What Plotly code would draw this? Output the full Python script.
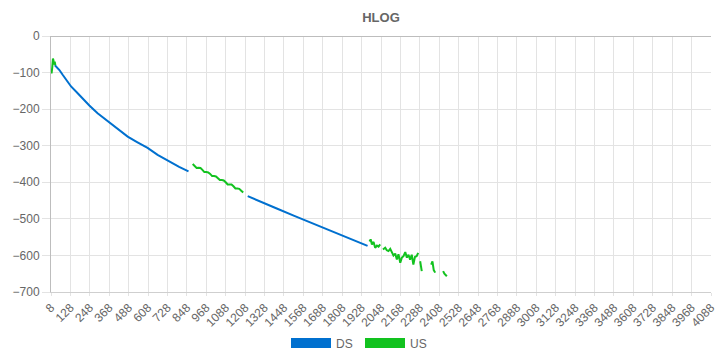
import plotly.graph_objects as go

# ---- data (subcarrier index, HLOG dB) ----
ds_x = [32, 45, 60, 80, 100, 132, 170, 200, 245, 296, 340, 379, 430, 482, 540, 605, 667, 710, 750, 800, 858,
        None,
        1224, 1300, 1400, 1512, 1600, 1700, 1800, 1900, 1965]
ds_y = [-80, -86, -93, -106, -118, -138, -155, -170, -190, -211, -226, -238, -257, -275, -290, -306, -325, -336, -347, -358, -370,
        None,
        -438, -453, -471, -492, -508, -525, -543, -562, -574]

us_x = [8, 12, 16, 20, 23, 27, 31, 35,
        None,
        884, 896, 908, 920, 932, 944, 956, 968, 980, 992, 1004, 1016, 1028, 1040, 1052, 1064,
        1076, 1088, 1100, 1112, 1124, 1136, 1148, 1160, 1172, 1184, 1196,
        None,
        1977, 1984, 1992, 2002, 2012, 2023, 2033, 2043,
        None,
        2060, 2074, 2084, 2094, 2105, 2115, 2125, 2136, 2146, 2156, 2167, 2177, 2187, 2198,
        2208, 2218, 2228, 2238, 2248, 2258, 2268, 2278,
        None,
        2290, 2296, 2300,
        None,
        2358, 2366, 2374, 2383,
        None,
        2432, 2440, 2455]
us_y = [-100, -100, -85, -62, -66, -78, -70, -80,
        None,
        -350, -355, -361, -360, -361, -366, -372, -372, -373, -377, -383, -383, -384, -389, -394, -394,
        -395, -400, -406, -406, -406, -411, -417, -417, -418, -423, -428,
        None,
        -562, -556, -570, -563, -579, -573, -576, -570,
        None,
        -584, -579, -586, -588, -582, -593, -600, -595, -611, -597, -620, -606, -602, -591,
        -606, -598, -612, -598, -625, -604, -602, -593,
        None,
        -616, -630, -643,
        None,
        -625, -616, -640, -647,
        None,
        -643, -650, -657]

tick_vals = list(range(8, 4089, 120))
y_ticks = [0, -100, -200, -300, -400, -500, -600, -700]

DS_COLOR = "#0070cf"
US_COLOR = "#12c21f"
FONT = "Liberation Sans, Arial, sans-serif"

fig = go.Figure()
fig.add_trace(go.Scatter(x=ds_x, y=ds_y, mode="lines", line=dict(color=DS_COLOR, width=2),
                         connectgaps=False, showlegend=False, hoverinfo="skip"))
fig.add_trace(go.Scatter(x=us_x, y=us_y, mode="lines", line=dict(color=US_COLOR, width=2),
                         connectgaps=False, showlegend=False, hoverinfo="skip"))
# legend entries
fig.add_trace(go.Scatter(x=[None], y=[None], mode="lines", name="DS",
                         line=dict(color=DS_COLOR, width=12)))
fig.add_trace(go.Scatter(x=[None], y=[None], mode="lines", name="US",
                         line=dict(color=US_COLOR, width=12)))

fig.update_layout(
    width=720, height=360,
    margin=dict(l=51, r=9, t=36, b=68),
    paper_bgcolor="white", plot_bgcolor="white",
    font=dict(family=FONT, size=12, color="#666666"),
    title=dict(text="<b>HLOG</b>", x=0.5, xref="paper", xanchor="center",
               y=1 - 17 / 360, yref="container", yanchor="middle",
               font=dict(family=FONT, size=13, color="#666666")),
    legend=dict(orientation="h", x=0.5, xanchor="center", xref="container",
                y=1 - 343 / 360, yref="container", yanchor="middle",
                font=dict(family=FONT, size=12, color="#666666"),
                itemwidth=40, entrywidth=19, traceorder="normal"),
    xaxis=dict(range=[8, 4088], tickmode="array", tickvals=tick_vals,
               ticktext=[str(v) for v in tick_vals], tickangle=-45,
               showgrid=True, gridcolor="#e3e3e3", gridwidth=1,
               ticks="outside", ticklen=3, tickcolor="#e3e3e3",
               showline=True, linecolor="#cfcfcf", linewidth=1,
               zeroline=False, automargin=False,
               tickfont=dict(size=12, color="#666666")),
    yaxis=dict(range=[-700, 0], tickmode="array", tickvals=y_ticks,
               showgrid=True, gridcolor="#e3e3e3", gridwidth=1,
               ticks="outside", ticklen=8, tickcolor="#e3e3e3",
               showline=True, linecolor="#bdbdbd", linewidth=1,
               zeroline=True, zerolinecolor="#bdbdbd", zerolinewidth=1,
               automargin=False,
               tickfont=dict(size=12, color="#666666")),
)

fig.write_html("out.html")
